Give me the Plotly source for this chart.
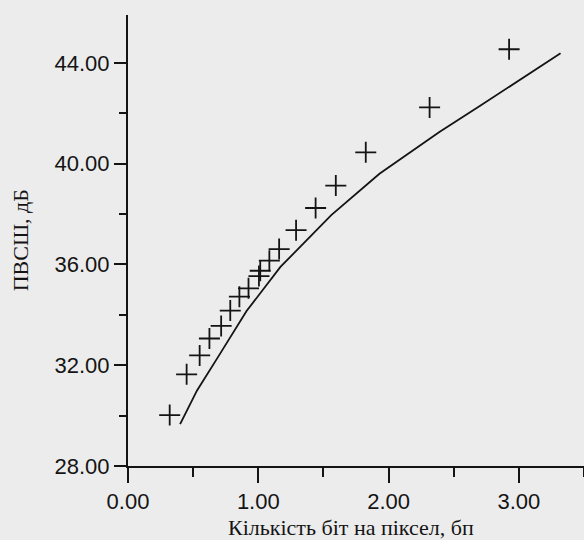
import plotly.graph_objects as go

# Measured points (+ markers)
pts_x = [0.32, 0.45, 0.55, 0.625, 0.715, 0.785, 0.855, 0.925, 1.005, 1.015,
         1.085, 1.16, 1.29, 1.44, 1.595, 1.825, 2.315, 2.925]
pts_y = [30.02, 31.64, 32.39, 33.06, 33.56, 34.17, 34.72, 35.05, 35.54, 35.75,
         36.15, 36.61, 37.36, 38.24, 39.13, 40.45, 42.23, 44.54]

# Curve
line_x = [0.40, 0.53, 0.70, 0.82, 0.91, 1.17, 1.42, 1.56, 1.93, 2.39, 2.70, 3.32]
line_y = [29.66, 31.00, 32.40, 33.40, 34.15, 35.90, 37.20, 37.96, 39.60, 41.26, 42.29, 44.38]

x_tickvals = [0, 1, 2, 3]
x_ticktext = ["0.00", "1.00", "2.00", "3.00"]
y_tickvals = [28, 32, 36, 40, 44]
y_ticktext = ["28.00", "32.00", "36.00", "40.00", "44.00"]

x_title = "Кількість біт на піксел, бп"
y_title = "ПВСШ, дБ"

ink = "#141414"
paper = "#ececec"
sans = "Liberation Sans, Arial, sans-serif"
serif = "Liberation Serif, Times New Roman, serif"

fig = go.Figure()
fig.add_trace(go.Scatter(x=line_x, y=line_y, mode="lines",
                         line=dict(color=ink, width=1.8), showlegend=False,
                         cliponaxis=False))
fig.add_trace(go.Scatter(x=pts_x, y=pts_y, mode="markers",
                         marker=dict(symbol="cross-thin", size=15,
                                     line=dict(color=ink, width=1.8)),
                         showlegend=False, cliponaxis=False))

fig.update_layout(
    width=584, height=540,
    margin=dict(l=128, r=0, t=15, b=74, autoexpand=False),
    paper_bgcolor=paper, plot_bgcolor=paper,
    font=dict(family=sans, color=ink, size=22),
    hovermode=False,
    annotations=[
        dict(text=x_title, xref="paper", yref="paper", x=0.49, y=-0.137,
             xanchor="center", yanchor="middle", showarrow=False,
             font=dict(family=serif, size=22, color=ink)),
        dict(text=y_title, xref="paper", yref="paper", x=-0.235, y=0.5,
             xanchor="center", yanchor="middle", showarrow=False, textangle=-90,
             font=dict(family=serif, size=22, color=ink)),
    ],
)
fig.update_xaxes(
    range=[0, 3.5], showgrid=False, zeroline=False, automargin=False,
    showline=True, linecolor=ink, linewidth=2,
    ticks="outside", ticklen=15, tickwidth=2, tickcolor=ink,
    tickvals=x_tickvals, ticktext=x_ticktext,
    tickfont=dict(size=22, family=sans, color=ink),
    minor=dict(dtick=0.5, tick0=0, ticks="outside", ticklen=9, tickwidth=2, tickcolor=ink),
)
fig.update_yaxes(
    range=[28, 45.9], showgrid=False, zeroline=False, automargin=False,
    showline=True, linecolor=ink, linewidth=2,
    ticks="outside", ticklen=12, tickwidth=2, tickcolor=ink,
    tickvals=y_tickvals, ticktext=y_ticktext,
    tickfont=dict(size=22, family=sans, color=ink),
    minor=dict(dtick=2, tick0=28, ticks="outside", ticklen=7, tickwidth=2, tickcolor=ink),
)

fig.write_html(
    "out.html",
    config={"displayModeBar": False, "staticPlot": True},
    post_script="document.body.style.margin='0';document.body.style.overflow='hidden';document.body.style.background='" + paper + "';",
)
